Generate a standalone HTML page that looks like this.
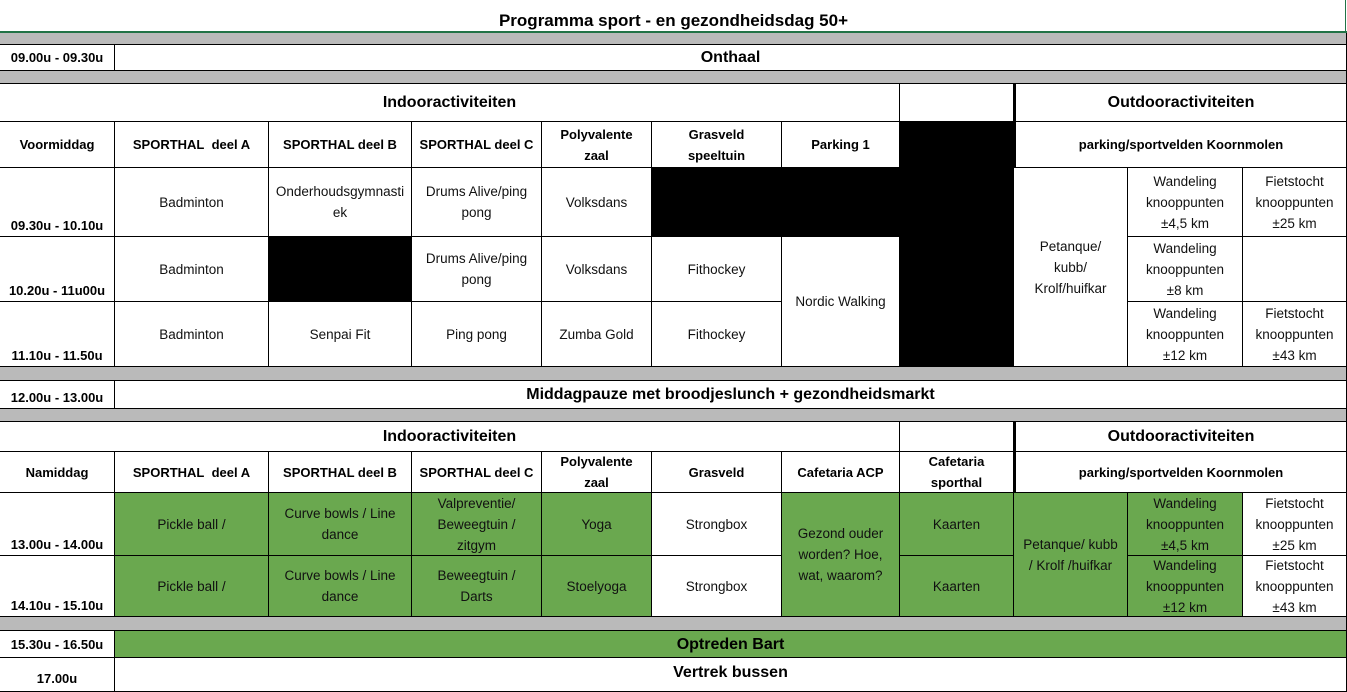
<!DOCTYPE html>
<html><head><meta charset="utf-8">
<style>
body{margin:0;width:1347px;height:688px;overflow:hidden;background:#fff;font-family:"Liberation Sans",Arial,sans-serif;position:relative}
.c{position:absolute;box-sizing:border-box;border:1px solid #000;display:flex;align-items:center;justify-content:center;text-align:center;font-size:13.5px;line-height:21px;color:#111;padding:0 2px}
.b{font-weight:bold;font-size:13px;color:#000}
.h{font-weight:bold;font-size:16px;color:#000}
.t{align-items:flex-end;font-weight:bold;font-size:13px;color:#000;padding-bottom:0}
.g{background:#bababa}
.k{background:#000}
.gr{background:#6aa84f}
.n{border:none}
</style></head><body>
<div class="c n h" style="left:0;top:0;width:1347px;height:33px;padding-top:8px;font-size:17px">Programma sport - en gezondheidsdag 50+</div>
<div class="c g" style="left:-1px;top:32px;width:1348px;height:13px;border-top:none"></div>
<div style="position:absolute;left:0;top:31px;width:1347px;height:2px;background:#217346"></div>
<div style="position:absolute;left:1345px;top:0;width:1px;height:33px;background:#217346"></div>
<div class="c b" style="left:-1px;top:44px;width:116px;height:27px">09.00u - 09.30u</div>
<div class="c h" style="left:114px;top:44px;width:1233px;height:27px">Onthaal</div>
<div class="c g" style="left:-1px;top:70px;width:1348px;height:14px"></div>

<!-- morning header -->
<div class="c h" style="left:-1px;top:83px;width:901px;height:39px">Indooractiviteiten</div>
<div class="c" style="left:899px;top:83px;width:115px;height:39px"></div>
<div class="c h" style="left:1013px;top:83px;width:334px;height:39px;border-left:3px solid #000">Outdooractiviteiten</div>
<div class="c b" style="left:-1px;top:121px;width:116px;height:47px">Voormiddag</div>
<div class="c b" style="left:114px;top:121px;width:155px;height:47px">SPORTHAL&nbsp; deel A</div>
<div class="c b" style="left:268px;top:121px;width:144px;height:47px">SPORTHAL deel B</div>
<div class="c b" style="left:411px;top:121px;width:131px;height:47px">SPORTHAL deel C</div>
<div class="c b" style="left:541px;top:121px;width:111px;height:47px">Polyvalente<br>zaal</div>
<div class="c b" style="left:651px;top:121px;width:131px;height:47px">Grasveld<br>speeltuin</div>
<div class="c b" style="left:781px;top:121px;width:119px;height:47px">Parking 1</div>
<div class="c k" style="left:899px;top:121px;width:115px;height:246px"></div>
<div class="c b" style="left:1013px;top:121px;width:334px;height:47px;border-left:3px solid #000">parking/sportvelden Koornmolen</div>

<div class="c t" style="left:-1px;top:167px;width:116px;height:70px">09.30u - 10.10u</div>
<div class="c" style="left:114px;top:167px;width:155px;height:70px">Badminton</div>
<div class="c" style="left:268px;top:167px;width:144px;height:70px">Onderhoudsgymnasti<br>ek</div>
<div class="c" style="left:411px;top:167px;width:131px;height:70px">Drums Alive/ping<br>pong</div>
<div class="c" style="left:541px;top:167px;width:111px;height:70px">Volksdans</div>
<div class="c k" style="left:651px;top:167px;width:249px;height:70px"></div>
<div class="c" style="left:1013px;top:167px;width:115px;height:200px">Petanque/<br>kubb/<br>Krolf/huifkar</div>
<div class="c" style="left:1127px;top:167px;width:116px;height:70px">Wandeling<br>knooppunten<br>±4,5 km</div>
<div class="c" style="left:1242px;top:167px;width:105px;height:70px">Fietstocht<br>knooppunten<br>±25 km</div>

<div class="c t" style="left:-1px;top:236px;width:116px;height:66px">10.20u - 11u00u</div>
<div class="c" style="left:114px;top:236px;width:155px;height:66px">Badminton</div>
<div class="c k" style="left:268px;top:236px;width:144px;height:66px"></div>
<div class="c" style="left:411px;top:236px;width:131px;height:66px">Drums Alive/ping<br>pong</div>
<div class="c" style="left:541px;top:236px;width:111px;height:66px">Volksdans</div>
<div class="c" style="left:651px;top:236px;width:131px;height:66px">Fithockey</div>
<div class="c" style="left:781px;top:236px;width:119px;height:131px">Nordic Walking</div>
<div class="c" style="left:1127px;top:236px;width:116px;height:66px">Wandeling<br>knooppunten<br>±8 km</div>
<div class="c" style="left:1242px;top:236px;width:105px;height:66px"></div>

<div class="c t" style="left:-1px;top:301px;width:116px;height:66px">11.10u - 11.50u</div>
<div class="c" style="left:114px;top:301px;width:155px;height:66px">Badminton</div>
<div class="c" style="left:268px;top:301px;width:144px;height:66px">Senpai Fit</div>
<div class="c" style="left:411px;top:301px;width:131px;height:66px">Ping pong</div>
<div class="c" style="left:541px;top:301px;width:111px;height:66px">Zumba Gold</div>
<div class="c" style="left:651px;top:301px;width:131px;height:66px">Fithockey</div>
<div class="c" style="left:1127px;top:301px;width:116px;height:66px">Wandeling<br>knooppunten<br>±12 km</div>
<div class="c" style="left:1242px;top:301px;width:105px;height:66px">Fietstocht<br>knooppunten<br>±43 km</div>

<div class="c g" style="left:-1px;top:366px;width:1348px;height:15px"></div>
<div class="c b" style="left:-1px;top:380px;width:116px;height:29px;align-items:flex-end">12.00u - 13.00u</div>
<div class="c h" style="left:114px;top:380px;width:1233px;height:29px">Middagpauze met broodjeslunch + gezondheidsmarkt</div>
<div class="c g" style="left:-1px;top:408px;width:1348px;height:14px"></div>

<!-- afternoon -->
<div class="c h" style="left:-1px;top:421px;width:901px;height:31px">Indooractiviteiten</div>
<div class="c" style="left:899px;top:421px;width:115px;height:31px"></div>
<div class="c h" style="left:1013px;top:421px;width:334px;height:31px;border-left:3px solid #000">Outdooractiviteiten</div>
<div class="c b" style="left:-1px;top:451px;width:116px;height:42px">Namiddag</div>
<div class="c b" style="left:114px;top:451px;width:155px;height:42px">SPORTHAL&nbsp; deel A</div>
<div class="c b" style="left:268px;top:451px;width:144px;height:42px">SPORTHAL deel B</div>
<div class="c b" style="left:411px;top:451px;width:131px;height:42px">SPORTHAL deel C</div>
<div class="c b" style="left:541px;top:451px;width:111px;height:42px">Polyvalente<br>zaal</div>
<div class="c b" style="left:651px;top:451px;width:131px;height:42px">Grasveld</div>
<div class="c b" style="left:781px;top:451px;width:119px;height:42px">Cafetaria ACP</div>
<div class="c b" style="left:899px;top:451px;width:115px;height:42px">Cafetaria<br>sporthal</div>
<div class="c b" style="left:1013px;top:451px;width:334px;height:42px;border-left:3px solid #000">parking/sportvelden Koornmolen</div>

<div class="c t" style="left:-1px;top:492px;width:116px;height:64px">13.00u - 14.00u</div>
<div class="c gr" style="left:114px;top:492px;width:155px;height:64px">Pickle ball /</div>
<div class="c gr" style="left:268px;top:492px;width:144px;height:64px">Curve bowls / Line<br>dance</div>
<div class="c gr" style="left:411px;top:492px;width:131px;height:64px">Valpreventie/<br>Beweegtuin /<br>zitgym</div>
<div class="c gr" style="left:541px;top:492px;width:111px;height:64px">Yoga</div>
<div class="c" style="left:651px;top:492px;width:131px;height:64px">Strongbox</div>
<div class="c gr" style="left:781px;top:492px;width:119px;height:125px">Gezond ouder<br>worden? Hoe,<br>wat, waarom?</div>
<div class="c gr" style="left:899px;top:492px;width:115px;height:64px">Kaarten</div>
<div class="c gr" style="left:1013px;top:492px;width:115px;height:125px">Petanque/ kubb<br>/ Krolf /huifkar</div>
<div class="c gr" style="left:1127px;top:492px;width:116px;height:64px">Wandeling<br>knooppunten<br>±4,5 km</div>
<div class="c" style="left:1242px;top:492px;width:105px;height:64px">Fietstocht<br>knooppunten<br>±25 km</div>

<div class="c t" style="left:-1px;top:555px;width:116px;height:62px">14.10u - 15.10u</div>
<div class="c gr" style="left:114px;top:555px;width:155px;height:62px">Pickle ball /</div>
<div class="c gr" style="left:268px;top:555px;width:144px;height:62px">Curve bowls / Line<br>dance</div>
<div class="c gr" style="left:411px;top:555px;width:131px;height:62px">Beweegtuin /<br>Darts</div>
<div class="c gr" style="left:541px;top:555px;width:111px;height:62px">Stoelyoga</div>
<div class="c" style="left:651px;top:555px;width:131px;height:62px">Strongbox</div>
<div class="c gr" style="left:899px;top:555px;width:115px;height:62px">Kaarten</div>
<div class="c gr" style="left:1127px;top:555px;width:116px;height:62px">Wandeling<br>knooppunten<br>±12 km</div>
<div class="c" style="left:1242px;top:555px;width:105px;height:62px">Fietstocht<br>knooppunten<br>±43 km</div>

<div class="c g" style="left:-1px;top:616px;width:1348px;height:15px"></div>
<div class="c b" style="left:-1px;top:630px;width:116px;height:28px">15.30u - 16.50u</div>
<div class="c h gr" style="left:114px;top:630px;width:1233px;height:28px">Optreden Bart</div>
<div class="c t" style="left:-1px;top:657px;width:116px;height:35px;padding-bottom:2px">17.00u</div>
<div class="c h" style="left:114px;top:657px;width:1233px;height:35px;align-items:flex-start;padding-top:4px">Vertrek bussen</div>
</body></html>
